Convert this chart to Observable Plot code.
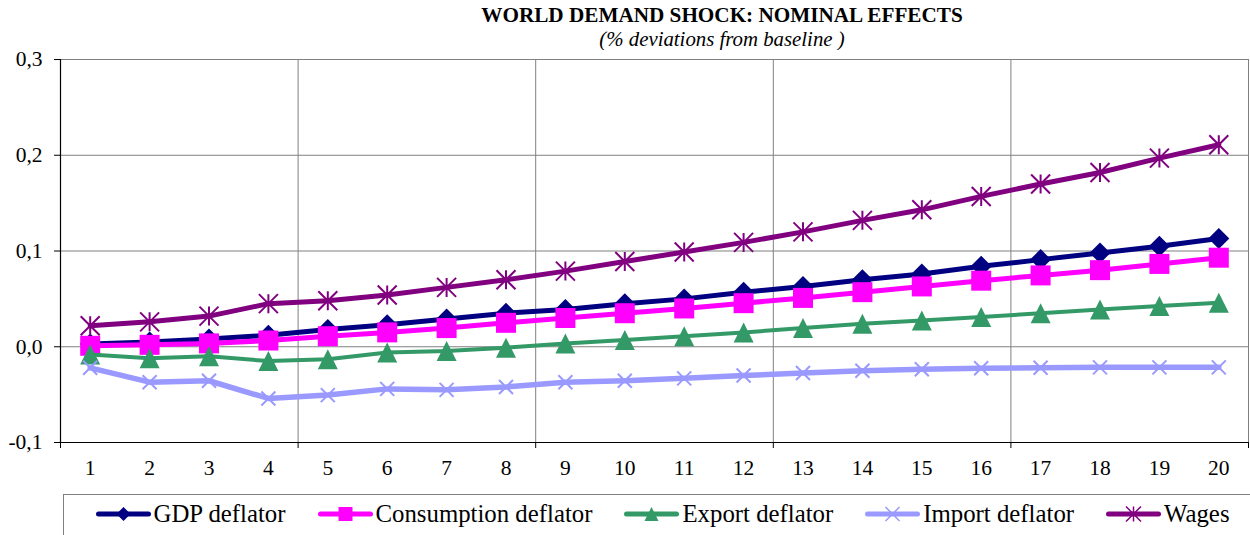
<!DOCTYPE html>
<html>
<head>
<meta charset="utf-8">
<script src="https://cdn.jsdelivr.net/npm/d3@7"></script>
<script src="https://cdn.jsdelivr.net/npm/@observablehq/plot@0.6"></script>
<style>
  html, body { margin: 0; padding: 0; background: #fff; overflow: hidden; }
  body { width: 1250px; height: 535px; position: relative;
         font-family: "Liberation Serif", "Times New Roman", serif; color: #000; }
  #title, #subtitle { position: absolute; left: 722px; transform: translateX(-50%);
         white-space: nowrap; line-height: 18px; }
  #title { top: 5.8px; font-weight: bold; font-size: 21.2px; }
  #subtitle { top: 29.5px; font-style: italic; font-size: 20.8px; }
  #chart { position: absolute; left: 0; top: 50px; }
  #legend { position: absolute; left: 63px; top: 494px; width: 1400px; height: 100px;
         border-top: 1.5px solid #808080; border-left: 1.5px solid #808080; }
  #legend .items { position: absolute; left: 31.5px; top: 6.4px; display: flex;
         align-items: center; gap: 32px; }
  #legend .item { display: flex; align-items: center; }
  #legend .item svg { display: block; margin-right: 3px; }
  #legend .item span { font-size: 24.8px; line-height: 26px; white-space: nowrap; }
</style>
</head>
<body>
<div id="title">WORLD DEMAND SHOCK: NOMINAL EFFECTS</div>
<div id="subtitle">(% deviations from baseline )</div>
<div id="chart"></div>
<div id="legend"><div class="items"></div></div>
<script>
// Quarters after the shock
const periods = [1, 2, 3, 4, 5, 6, 7, 8, 9, 10, 11, 12, 13, 14, 15, 16, 17, 18, 19, 20];

// Responses, % deviation from baseline
const gdpDeflator = [0.003, 0.005, 0.008, 0.012, 0.018, 0.023, 0.029, 0.035, 0.039, 0.045,
                     0.050, 0.057, 0.063, 0.070, 0.076, 0.084, 0.091, 0.098, 0.105, 0.113];
const consumptionDeflator = [0.001, 0.002, 0.0035, 0.0065, 0.011, 0.015, 0.0195, 0.025, 0.030, 0.035,
                     0.040, 0.0455, 0.051, 0.057, 0.063, 0.069, 0.0745, 0.080, 0.0865, 0.093];
const exportDeflator = [-0.008, -0.012, -0.010, -0.015, -0.013, -0.006, -0.0045, -0.001, 0.0035, 0.007,
                     0.011, 0.015, 0.0195, 0.024, 0.0275, 0.031, 0.035, 0.039, 0.0425, 0.046];
const importDeflator = [-0.022, -0.037, -0.0355, -0.054, -0.0505, -0.044, -0.045, -0.042, -0.037, -0.0355,
                     -0.033, -0.030, -0.0275, -0.025, -0.0235, -0.0225, -0.022, -0.0215, -0.0215, -0.0215];
const wages = [0.022, 0.026, 0.032, 0.045, 0.048, 0.054, 0.062, 0.070, 0.079, 0.089,
               0.099, 0.109, 0.120, 0.132, 0.143, 0.157, 0.170, 0.182, 0.197, 0.211];

const seriesNames = ["GDP deflator", "Consumption deflator", "Export deflator", "Import deflator", "Wages"];
const seriesValues = [gdpDeflator, consumptionDeflator, exportDeflator, importDeflator, wages];

const yTicks = [-0.1, 0, 0.1, 0.2, 0.3];
const xBreaks = [0.5, 4.5, 8.5, 12.5, 16.5, 20.5];

// Marker shapes (size is the symbol area, as Plot passes it)
const rad = size => Math.sqrt(size / Math.PI);
const symbols = {
  diamond: { draw(c, size) { const r = rad(size);
    c.moveTo(0, -r); c.lineTo(r, 0); c.lineTo(0, r); c.lineTo(-r, 0); c.closePath(); } },
  square: { draw(c, size) { const r = rad(size);
    c.moveTo(-r, -r); c.lineTo(r, -r); c.lineTo(r, r); c.lineTo(-r, r); c.closePath(); } },
  triangle: { draw(c, size) { const r = rad(size);
    c.moveTo(0, -r); c.lineTo(r, r); c.lineTo(-r, r); c.closePath(); } },
  cross: { draw(c, size) { const r = rad(size);
    c.moveTo(-r, -r); c.lineTo(r, r); c.moveTo(-r, r); c.lineTo(r, -r); } },
  star: { draw(c, size) { const r = rad(size);
    c.moveTo(-r, -r); c.lineTo(r, r); c.moveTo(-r, r); c.lineTo(r, -r);
    c.moveTo(0, -r); c.lineTo(0, r); } }
};

const styles = [
  { color: "#000080", width: 5,   symbol: symbols.diamond,  r: 10.5, lr: 7,   filled: true },
  { color: "#FF00FF", width: 5,   symbol: symbols.square,   r: 10,   lr: 7,   filled: true },
  { color: "#339966", width: 4,   symbol: symbols.triangle, r: 10,   lr: 7,   filled: true },
  { color: "#9999FF", width: 5.5, symbol: symbols.cross,    r: 7,    lr: 7,   filled: false },
  { color: "#800080", width: 5,   symbol: symbols.star,     r: 9.5,  lr: 7.5, filled: false }
];

const rows = seriesNames.map((name, i) =>
  periods.map((t, j) => ({ series: name, t, v: seriesValues[i][j] })));

const fmt = d => d3.format(".1f")(d).replace(".", ",").replace("\u2212", "-");

const seriesMarks = rows.flatMap((data, i) => {
  const s = styles[i];
  return [
    Plot.line(data, { x: "t", y: "v", stroke: s.color, strokeWidth: s.width,
                      strokeLinejoin: "round", strokeLinecap: "round" }),
    Plot.dot(data, { x: "t", y: "v", symbol: s.symbol, r: s.r,
                     fill: s.filled ? s.color : "none",
                     stroke: s.filled ? "none" : s.color,
                     strokeWidth: s.filled ? 0 : 2 })
  ];
});

const chart = Plot.plot({
  width: 1250,
  height: 436,
  marginLeft: 60,
  marginRight: 2,
  marginTop: 9,
  marginBottom: 44,
  x: { type: "linear", domain: [0.5, 20.5], label: null },
  y: { domain: [-0.1, 0.3], label: null },
  style: { fontFamily: "'Liberation Serif', 'Times New Roman', serif", fontSize: "21.5px",
           color: "#000", background: "#fff", overflow: "visible" },
  marks: [
    Plot.ruleY(yTicks.slice(1), { stroke: "#808080", strokeWidth: 1 }),
    Plot.ruleX(xBreaks.slice(1), { stroke: "#808080", strokeWidth: 1 }),
    Plot.axisY({ ticks: yTicks, tickSize: 6, tickPadding: 12, tickFormat: fmt, label: null }),
    Plot.axisX({ ticks: periods, tickSize: 0, tickPadding: 17, tickFormat: d => String(d), label: null }),
    Plot.axisX({ ticks: xBreaks, tickSize: 6, tickFormat: () => "", label: null }),
    Plot.ruleY([-0.1], { stroke: "#000", strokeWidth: 1.2 }),
    Plot.ruleX([0.5], { stroke: "#000", strokeWidth: 1.2 }),
    ...seriesMarks
  ]
});
document.getElementById("chart").append(chart);

// Legend: line swatch with marker, then the series name
const items = d3.select("#legend .items");
seriesNames.forEach((name, i) => {
  const s = styles[i];
  const item = items.append("div").attr("class", "item");
  const svg = item.append("svg").attr("width", 55).attr("height", 26);
  svg.append("line").attr("x1", 2.5).attr("x2", 52.5).attr("y1", 13).attr("y2", 13)
    .attr("stroke", s.color).attr("stroke-width", 5).attr("stroke-linecap", "round");
  const p = d3.path();
  s.symbol.draw(p, Math.PI * s.lr * s.lr);
  svg.append("path").attr("transform", "translate(27.5,13)").attr("d", p.toString())
    .attr("fill", s.filled ? s.color : "none")
    .attr("stroke", s.filled ? "none" : s.color)
    .attr("stroke-width", s.filled ? 0 : 1.5);
  item.append("span").text(name);
});
</script>
</body>
</html>
